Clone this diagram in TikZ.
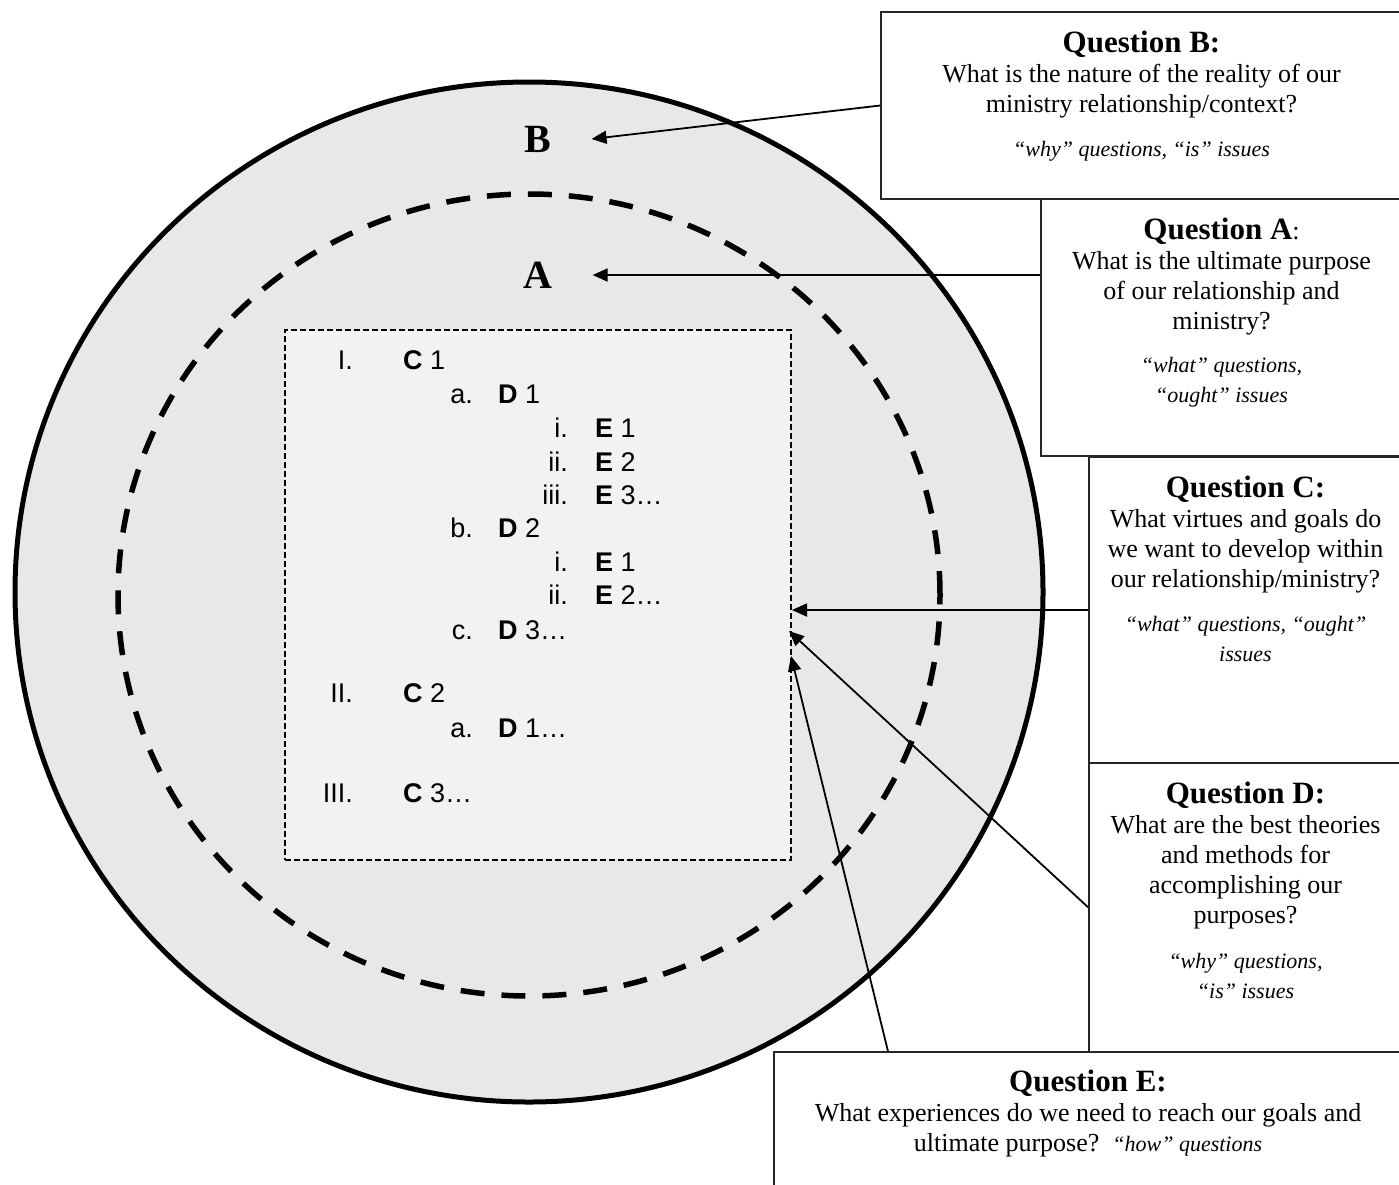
\documentclass[tikz,border=0pt]{standalone}
\usepackage{fontspec}
\setmainfont{Liberation Serif}
\setsansfont{Liberation Sans}
\usetikzlibrary{positioning,arrows.meta}

\definecolor{ringgray}{HTML}{E8E8E8}
\definecolor{panelgray}{HTML}{F2F2F2}

\tikzset{
	qbox/.style={draw=black!85, line width=1.3pt, fill=white, rectangle, inner sep=0pt},
	qtext/.style={align=center, inner sep=0pt, font=\fontsize{26}{30}\selectfont},
	qlink/.style={line width=1.8pt, -{Triangle[length=15pt,width=13pt]}},
	ringlabel/.style={font=\fontsize{40}{40}\selectfont\bfseries, inner sep=0pt},
	outline/.style={font=\sffamily\fontsize{27}{30}\selectfont, inner sep=0pt}
}
\newcommand{\qtitle}[1]{{\fontsize{31}{30}\selectfont\bfseries #1}}
\newcommand{\qnote}[1]{{\fontsize{22}{30}\selectfont\itshape #1}}

\begin{document}
\begin{tikzpicture}[x=1pt,y=-1pt]
	\useasboundingbox (0,0) rectangle (1399,1184);

	% rings
	\draw[line width=5pt, fill=ringgray] (529,592) ellipse [x radius=514pt, y radius=510pt];
	\draw[line width=5.5pt, dash pattern=on 24pt off 17pt] (529,595) ellipse [x radius=411pt, y radius=401pt];
	\node[rectangle, draw, line width=2pt, dash pattern=on 6pt off 3pt, fill=panelgray,
		minimum width=506pt, minimum height=530pt, inner sep=0pt] (panel) at (538,595) {};

	\node[ringlabel] (labB) at (538,139) {B};
	\node[ringlabel] (labA) at (538,275) {A};

	% outline inside the panel
	\foreach \y/\num/\nx/\tx/\body [count=\n] in {
		369/I./353/403/{\textbf{C} 1},
		403/a./473/498/{\textbf{D} 1},
		437/i./568/595/{\textbf{E} 1},
		471/ii./568/595/{\textbf{E} 2},
		504/iii./568/595/{\textbf{E} 3…},
		537/b./473/498/{\textbf{D} 2},
		571/i./568/595/{\textbf{E} 1},
		604/ii./568/595/{\textbf{E} 2…},
		639/c./473/498/{\textbf{D} 3…},
		702/II./353/403/{\textbf{C} 2},
		737/a./473/498/{\textbf{D} 1…},
		802/III./353/403/{\textbf{C} 3…}}{
		\node[outline, anchor=base east] (num\n) at (\nx,\y) {\num};
		\node[outline, anchor=base west] (item\n) at (\tx,\y) {\body};
	}

	% question boxes
	\node[qbox, minimum width=521pt, minimum height=187pt] (boxB) at (1141.5,105.5) {};
	\node[qbox, minimum width=361pt, minimum height=257pt] (boxA) at (1221.5,327.5) {};
	\node[qbox, minimum width=313pt, minimum height=306pt] (boxC) at (1245.5,610) {};
	\node[qbox, minimum width=313pt, minimum height=289pt] (boxD) at (1245.5,907.5) {};
	\node[qbox, minimum width=628pt, minimum height=138pt] (boxE) at (1088,1121) {};

	\node[qtext, below=19pt of boxB.north] (txtB) {\qtitle{Question B:}\\
		What is the nature of the reality of our\\
		ministry relationship/context?\\[14pt]
		\qnote{“why” questions, “is” issues}};
	\node[qtext, below=19pt of boxA.north] (txtA) {\qtitle{Question A}:\\
		What is the ultimate purpose\\
		of our relationship and\\
		ministry?\\[13pt]
		\qnote{“what” questions,}\\
		\qnote{“ought” issues}};
	\node[qtext, below=19pt of boxC.north] (txtC) {\qtitle{Question C:}\\
		What virtues and goals do\\
		we want to develop within\\
		our relationship/ministry?\\[14pt]
		\qnote{“what” questions, “ought”}\\
		\qnote{issues}};
	\node[qtext, below=19pt of boxD.north] (txtD) {\qtitle{Question D:}\\
		What are the best theories\\
		and methods for\\
		accomplishing our\\
		purposes?\\[15pt]
		\qnote{“why” questions,}\\
		\qnote{“is” issues}};
	\node[qtext, below=18pt of boxE.north] (txtE) {\qtitle{Question E:}\\
		What experiences do we need to reach our goals and\\
		ultimate purpose?\ \ \qnote{“how” questions}};

	% connectors
	\coordinate (tipD) at (789,631);
	\coordinate (tipE) at (791,656);
	\draw[qlink] (boxB.west) -- ([xshift=40pt]labB.east);
	\draw[qlink] (boxA.west |- labA) -- ([xshift=40pt]labA.east);
	\draw[qlink] (boxC.west) -- (panel.east |- boxC.west);
	\draw[qlink] (boxD.west) -- (tipD);
	\draw[qlink] ([xshift=-200pt]boxE.north) -- (tipE);
\end{tikzpicture}
\end{document}
